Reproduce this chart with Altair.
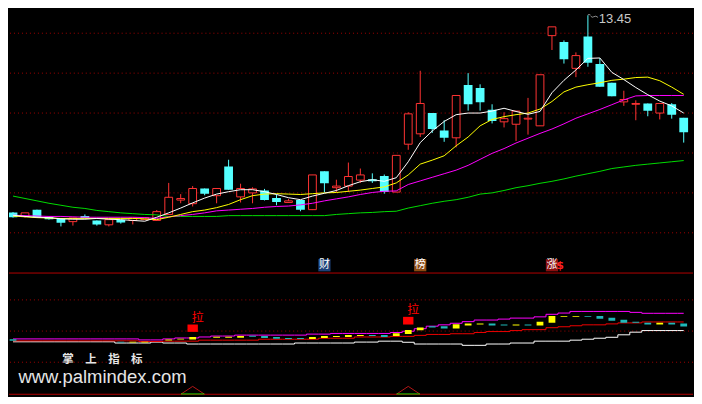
import altair as alt
import pandas as pd

# ---------------- data ----------------
# 57 daily candles, index 0 is partly cut at the left edge
opens  = [8.51, 8.41, 8.58, 8.40, 8.36, 8.28, 8.42, 8.31, 8.20, 8.32, 8.31, 8.33, 8.31, 8.46, 8.82, 8.73,
          9.11, 8.93, 9.66, 8.90, 9.00, 9.06, 8.87, 8.76, 8.82, 8.58, 9.54, 9.13, 9.17, 9.32, 9.34, 9.42,
          9.02, 10.22, 10.48, 11.00, 10.56, 10.38, 11.70, 11.63, 11.08, 10.78, 10.72, 10.85, 10.68, 12.94,
          12.78, 12.12, 12.92, 12.23, 11.76, 11.28, 11.22, 11.24, 11.00, 11.22, 10.88]
closes = [8.39, 8.50, 8.39, 8.34, 8.25, 8.37, 8.37, 8.21, 8.33, 8.26, 8.37, 8.38, 8.53, 8.89, 8.86, 9.11,
          8.98, 9.11, 9.08, 9.11, 9.10, 8.82, 8.77, 8.80, 8.58, 9.45, 9.24, 9.17, 9.41, 9.45, 9.29, 9.02,
          9.94, 10.98, 11.24, 10.60, 10.38, 11.44, 11.22, 11.27, 10.80, 10.86, 11.05, 10.87, 11.96, 13.16,
          12.35, 12.44, 12.26, 11.66, 11.42, 11.34, 11.24, 11.06, 11.24, 10.96, 10.52]
highs  = [8.52, 8.50, 8.58, 8.40, 8.36, 8.37, 8.46, 8.31, 8.33, 8.32, 8.37, 8.38, 8.57, 9.25, 8.97, 9.17,
          9.11, 9.11, 9.83, 9.23, 9.14, 9.10, 8.96, 8.85, 8.82, 9.45, 9.54, 9.33, 9.76, 9.61, 9.49, 9.46,
          9.94, 11.02, 12.06, 11.00, 10.82, 11.44, 12.00, 11.72, 11.22, 11.02, 11.05, 11.38, 11.96, 13.16,
          12.82, 12.52, 13.45, 12.38, 11.76, 11.56, 11.32, 11.24, 11.24, 11.25, 10.88]
lows   = [8.38, 8.38, 8.39, 8.33, 8.16, 8.18, 8.37, 8.18, 8.16, 8.23, 8.21, 8.33, 8.31, 8.46, 8.74, 8.66,
          8.94, 8.74, 9.08, 8.76, 8.74, 8.81, 8.69, 8.76, 8.54, 8.57, 9.01, 9.02, 9.02, 9.25, 9.25, 8.98,
          9.02, 10.08, 10.40, 10.50, 10.28, 10.14, 11.06, 11.06, 10.74, 10.64, 10.30, 10.46, 10.68, 12.58,
          12.24, 11.90, 12.16, 11.66, 11.42, 11.18, 10.82, 10.92, 10.84, 10.86, 10.26]

ma5  = [8.44, 8.41, 8.39, 8.38, 8.35, 8.34, 8.34, 8.36, 8.34, 8.33, 8.31, 8.29, 8.39, 8.50, 8.62, 8.75,
        8.87, 8.97, 9.03, 9.08, 9.08, 9.03, 8.96, 8.88, 8.83, 8.92, 8.99, 9.06, 9.18, 9.28, 9.33, 9.29,
        9.38, 9.78, 10.26, 10.55, 10.79, 10.96, 11.00, 11.00, 11.05, 11.12, 11.04, 10.97, 11.04, 11.51,
        11.82, 12.08, 12.37, 12.38, 12.02, 11.84, 11.64, 11.46, 11.30, 11.18, 11.00]
ma10 = [8.42, 8.40, 8.38, 8.37, 8.36, 8.36, 8.36, 8.36, 8.36, 8.36, 8.36, 8.35, 8.33, 8.39, 8.46, 8.53,
        8.57, 8.63, 8.71, 8.83, 8.93, 8.97, 8.98, 8.97, 8.96, 8.98, 9.00, 9.01, 9.04, 9.07, 9.11, 9.15,
        9.25, 9.45, 9.72, 9.82, 9.93, 10.18, 10.40, 10.68, 10.84, 10.91, 10.96, 11.00, 11.10, 11.29,
        11.53, 11.65, 11.71, 11.76, 11.82, 11.85, 11.89, 11.90, 11.81, 11.65, 11.47]
ma20 = [8.44, 8.43, 8.42, 8.41, 8.41, 8.40, 8.39, 8.39, 8.39, 8.39, 8.39, 8.38, 8.36, 8.40, 8.43, 8.46,
        8.50, 8.55, 8.57, 8.59, 8.61, 8.64, 8.66, 8.67, 8.70, 8.74, 8.80, 8.85, 8.90, 8.96, 9.01, 9.04,
        9.05, 9.21, 9.30, 9.39, 9.48, 9.57, 9.69, 9.84, 9.99, 10.11, 10.25, 10.37, 10.49, 10.60, 10.73,
        10.87, 10.98, 11.09, 11.21, 11.33, 11.43, 11.44, 11.44, 11.44, 11.44]
ma60 = [8.92, 8.86, 8.80, 8.74, 8.69, 8.64, 8.61, 8.56, 8.53, 8.50, 8.48, 8.46, 8.45, 8.41, 8.41, 8.41,
        8.41, 8.41, 8.43, 8.43, 8.43, 8.43, 8.43, 8.43, 8.43, 8.43, 8.43, 8.46, 8.48, 8.50, 8.51, 8.53,
        8.54, 8.62, 8.68, 8.74, 8.79, 8.83, 8.89, 8.97, 9.00, 9.06, 9.13, 9.18, 9.24, 9.29, 9.35, 9.42,
        9.48, 9.54, 9.61, 9.65, 9.69, 9.72, 9.75, 9.78, 9.81]

price_grid = [8, 9, 10, 11, 12, 13]
high_label = "13.45"
tag_idx  = [26, 34, 45]
tag_text = ["财", "榜", "涨"]

# lower indicator panel
ind_mag = [37.4, 37.4, 37.4, 37.4, 37.4, 37.4, 37.4, 37.4, 37.4, 37.4, 37.4, 35.8, 35.8, 37.4, 38.9, 38.9,
           40.5, 42.0, 42.0, 43.5, 43.5, 43.5, 43.5, 43.5, 43.5, 45.1, 45.1, 46.2, 46.2, 46.2, 46.2, 46.2,
           47.7, 49.7, 53.8, 57.8, 60.0, 62.5, 65.1, 67.7, 67.7, 69.2, 70.8, 70.8, 72.8, 76.9, 78.9, 81.5,
           81.5, 81.5, 81.5, 81.5, 80.0, 78.5, 78.5, 78.5, 78.5]
ind_red = [34.3, 34.3, 34.3, 34.3, 34.3, 34.3, 34.3, 34.3, 34.3, 34.3, 34.3, 33.2, 33.2, 33.8, 33.8, 33.8,
           35.4, 35.4, 35.4, 35.4, 35.4, 36.9, 36.9, 36.9, 36.9, 36.9, 38.5, 38.5, 38.5, 40.5, 40.5, 40.5,
           41.5, 41.5, 43.1, 44.6, 44.6, 45.7, 45.7, 47.7, 49.2, 49.2, 50.8, 52.3, 52.3, 55.4, 56.9, 58.5,
           60.0, 60.0, 61.5, 63.1, 63.1, 64.6, 64.6, 64.6, 64.6]
ind_white = [32.8, 32.8, 32.8, 32.8, 32.8, 32.8, 32.8, 32.8, 32.8, 30.8, 30.8, 30.8, 32.3, 30.8, 30.8, 29.2,
             29.2, 29.2, 29.2, 29.2, 29.2, 29.2, 29.2, 29.2, 30.8, 30.8, 30.8, 30.8, 30.8, 32.3, 32.3, 33.8,
             33.8, 32.0, 29.2, 29.2, 29.2, 29.2, 27.1, 27.1, 29.2, 29.2, 30.8, 30.8, 33.8, 33.8, 33.8, 35.4,
             36.9, 38.5, 40.0, 44.0, 48.2, 50.8, 50.8, 50.8, 50.8]

bar_idx  = [0, 9, 10, 11, 13, 14, 15, 17, 18, 19, 20, 21, 22, 23, 24, 25, 26, 27, 28, 29, 30, 31, 32, 33,
            34, 35, 36, 37, 38, 39, 40, 41, 42, 43, 44, 45, 46, 47, 48, 49, 50, 51, 52, 53, 54, 55, 56]
bar_top  = [37.0, 32.8, 32.8, 32.8, 36.3, 37.8, 40.5, 40.9, 40.9, 42.0, 42.5, 42.0, 40.5, 38.9, 38.9, 40.5,
            42.0, 42.0, 43.5, 43.5, 43.5, 43.5, 46.6, 51.7, 55.8, 57.8, 57.8, 60.9, 62.0, 62.0, 62.0, 60.5,
            60.5, 60.5, 65.1, 74.3, 74.3, 74.3, 74.3, 74.3, 71.2, 68.2, 65.1, 63.5, 63.5, 63.5, 62.0]
bar_bot  = [34.3, 31.7, 31.7, 31.7, 34.8, 36.3, 36.3, 39.4, 39.4, 39.4, 40.9, 38.9, 37.8, 37.4, 37.4, 37.4,
            38.9, 40.5, 40.5, 42.0, 42.0, 40.5, 42.0, 45.1, 51.2, 55.8, 54.3, 54.3, 58.9, 60.5, 58.9, 58.9,
            58.9, 58.9, 58.9, 63.5, 72.8, 72.8, 72.8, 69.7, 66.6, 63.5, 63.5, 60.5, 60.5, 60.5, 57.4]
bar_kind = ["c", "c", "y", "y", "y", "y", "y", "y", "y", "y", "c", "c", "c", "c", "c", "y",
            "y", "y", "y", "y", "c", "c", "y", "y", "y", "c", "c", "y", "y", "y", "c", "c",
            "y", "c", "y", "y", "y", "y", "c", "c", "c", "c", "c", "c", "y", "c", "c"]

la_idx = [15, 33]
la_lo  = [48.7, 60.5]
la_hi  = [60.5, 72.8]
la_text = ["拉", "拉"]
ind_grid = [0, 50, 100]
frame_lines = [143.1, -51.4]

watermark_cn = "掌　上　指　标"
watermark_url = "www.palmindex.com"

# ---------------- styles ----------------
W, H_TOP, H_BOT = 686, 264, 124
RED, CYAN = "#ff3333", "#54ffff"
GRID = "#a00000"
FRAME = "#b40000"
TAG_BG = ["#1c4178", "#8c4a12", "#8a1010"]

df = pd.DataFrame({"i": list(range(len(opens))), "open": opens, "close": closes,
                   "high": highs, "low": lows,
                   "ma5": ma5, "ma10": ma10, "ma20": ma20, "ma60": ma60})
df["dir"] = ["up" if c >= o else "down" for o, c in zip(opens, closes)]

xsc = alt.Scale(domain=[0.08, 56.36], nice=False, zero=False)
ytop = alt.Scale(domain=[7.023, 13.618], nice=False, zero=False)
ybot = alt.Scale(domain=[-54.9, 143.5], nice=False, zero=False)
X = alt.X("i:Q", scale=xsc, axis=None)

base = alt.Chart(df)
up = base.transform_filter("datum.dir == 'up'")
dn = base.transform_filter("datum.dir == 'down'")

grid_top = alt.Chart(pd.DataFrame({"p": price_grid})).mark_rule(
    stroke=GRID, strokeDash=[1, 3], strokeWidth=1).encode(y=alt.Y("p:Q", scale=ytop, axis=None))

wick_up = up.mark_rule(strokeWidth=1, color=RED, clip=True).encode(
    x=X, y=alt.Y("low:Q", scale=ytop, axis=None), y2="high:Q")
wick_dn = dn.mark_rule(strokeWidth=1, color=CYAN, clip=True).encode(
    x=X, y=alt.Y("low:Q", scale=ytop, axis=None), y2="high:Q")
up_body = up.mark_bar(width=7.8, fill="black", stroke=RED, strokeWidth=1, clip=True).encode(
    x=X, y=alt.Y("open:Q", scale=ytop, axis=None), y2="close:Q")
dn_body = dn.mark_bar(width=8.8, color=CYAN, clip=True).encode(
    x=X, y=alt.Y("open:Q", scale=ytop, axis=None), y2="close:Q")

def ma_line(field, color):
    return base.mark_line(color=color, strokeWidth=1, clip=True).encode(
        x=X, y=alt.Y(f"{field}:Q", scale=ytop, axis=None))

hi_df = pd.DataFrame({"i": [48], "p": [max(highs)], "t": [high_label]})
hi_text = alt.Chart(hi_df).mark_text(align="left", baseline="middle", dx=11, dy=4, fontSize=13,
                                     color="#c8c8c8", font="Liberation Sans").encode(
    x=X, y=alt.Y("p:Q", scale=ytop, axis=None), text="t:N")
hi_flag = alt.Chart(hi_df).mark_point(
    shape="M0,-0.05L0.2,-0.05M0.22,0.05Q0.35,0.25 0.5,0.12Q0.65,0.0 0.85,0.18",
    size=576, filled=False, stroke="#c8c8c8", strokeWidth=1).encode(
    x=X, y=alt.Y("p:Q", scale=ytop, axis=None))

tag_df = pd.DataFrame({"i": tag_idx, "t": tag_text})
tag_layers = []
for k in range(len(tag_idx)):
    one = alt.Chart(tag_df.iloc[[k]])
    tag_layers.append(one.mark_point(shape="square", filled=True, size=150, opacity=1,
                                     color=TAG_BG[k]).encode(x=X, y=alt.value(257.4)))
    tag_layers.append(one.mark_text(fontSize=11, color="white", font="Noto Sans CJK SC",
                                    baseline="middle", align="center").encode(
        x=X, y=alt.value(257.6), text="t:N"))
dollar = alt.Chart(pd.DataFrame({"i": [tag_idx[2]], "t": ["$"]})).mark_text(
    fontSize=11, fontWeight="bold", color="#ff2020", font="DejaVu Sans", baseline="middle", dx=8).encode(
    x=X, y=alt.value(258.5), text="t:N")

top = alt.layer(grid_top, wick_up, wick_dn, up_body, dn_body,
                ma_line("ma60", "#00dc00"), ma_line("ma20", "#ff00ff"),
                ma_line("ma10", "#ffff00"), ma_line("ma5", "#ffffff"),
                *tag_layers, dollar, hi_flag, hi_text).properties(width=W, height=H_TOP)

# ---------------- lower panel ----------------
ind = pd.DataFrame({"i": list(range(len(ind_mag))), "mag": ind_mag, "red": ind_red, "white": ind_white})
ib = alt.Chart(ind)

grid_bot = alt.Chart(pd.DataFrame({"v": ind_grid})).mark_rule(
    stroke=GRID, strokeDash=[1, 3], strokeWidth=1).encode(y=alt.Y("v:Q", scale=ybot, axis=None))
frames = alt.Chart(pd.DataFrame({"v": frame_lines})).mark_rule(
    stroke=FRAME, strokeWidth=1).encode(y=alt.Y("v:Q", scale=ybot, axis=None))

def step_line(field, color):
    return ib.mark_line(color=color, strokeWidth=1, interpolate="step", clip=True).encode(
        x=X, y=alt.Y(f"{field}:Q", scale=ybot, axis=None))

bars_df = pd.DataFrame({"i": bar_idx, "top": bar_top, "bot": bar_bot, "k": bar_kind})
bars_y = alt.Chart(bars_df).transform_filter("datum.k == 'y'").mark_bar(
    width=6.8, color="#ffff00", clip=True).encode(
    x=X, y=alt.Y("bot:Q", scale=ybot, axis=None), y2="top:Q")
bars_c = alt.Chart(bars_df).transform_filter("datum.k == 'c'").mark_bar(
    width=6.8, color="#1fb8b8", clip=True).encode(
    x=X, y=alt.Y("bot:Q", scale=ybot, axis=None), y2="top:Q")

la_df = pd.DataFrame({"i": la_idx, "lo": la_lo, "hi": la_hi, "t": la_text})
la_sq = alt.Chart(la_df).mark_bar(width=10.4, color="#ff0000").encode(
    x=X, y=alt.Y("lo:Q", scale=ybot, axis=None), y2="hi:Q")
la_tx = alt.Chart(la_df).mark_text(fontSize=12, color="#ff0000", font="Noto Sans CJK SC",
                                   baseline="bottom", dx=5, dy=0).encode(
    x=X, y=alt.Y("hi:Q", scale=ybot, axis=None), text="t:N")

tri_df = pd.DataFrame({"i": la_idx})
tri = alt.Chart(tri_df).mark_point(shape="M-1,0.33L0,-0.33L1,0.33", size=552, filled=False,
                                   stroke="#ff2020", strokeWidth=1).encode(
    x=X, y=alt.value(117.8))
tri_base = alt.Chart(tri_df).mark_point(shape="M-1,0.33L1,0.33", size=552, filled=False,
                                        stroke="#00ff00", strokeWidth=1.2).encode(
    x=X, y=alt.value(117.6))

wm1 = alt.Chart(pd.DataFrame({"t": [watermark_cn]})).mark_text(
    align="left", baseline="middle", fontSize=11.5, fontWeight="bold", color="#e6e6e6",
    font="Noto Sans CJK SC").encode(x=alt.value(53.5), y=alt.value(87.8), text="t:N")
wm2 = alt.Chart(pd.DataFrame({"t": [watermark_url]})).mark_text(
    align="left", baseline="alphabetic", fontSize=18.5, color="#e6e6e6",
    font="Liberation Sans").encode(x=alt.value(9.5), y=alt.value(111.0), text="t:N")

bottom = alt.layer(grid_bot, frames, step_line("white", "#ffffff"), step_line("red", "#ee0000"),
                   step_line("mag", "#ff00ff"), bars_y, bars_c, la_sq, la_tx, tri, tri_base, wm1, wm2
                   ).properties(width=W, height=H_BOT)

chart = alt.vconcat(top, bottom, spacing=0).properties(
    background="black", padding=0).configure_view(stroke=None).configure_concat(spacing=0)

chart.save("out.html", embed_options={"renderer": "svg", "actions": False})
